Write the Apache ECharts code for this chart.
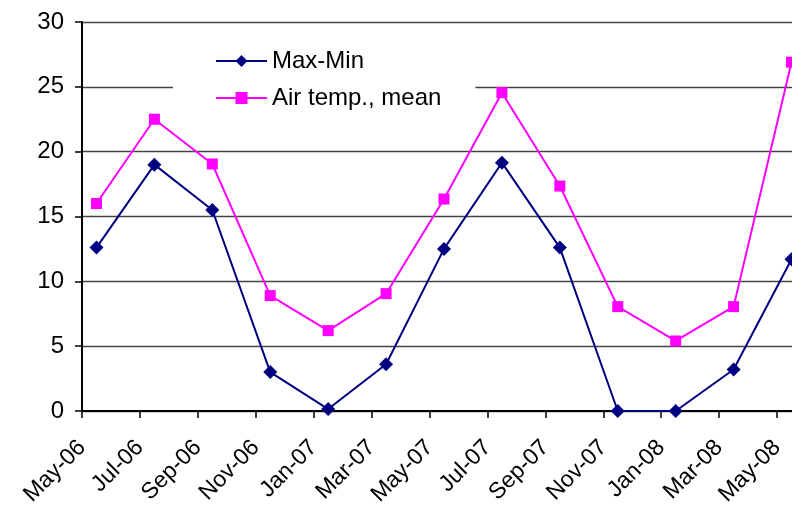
<!DOCTYPE html>
<html>
<head>
<meta charset="utf-8">
<script src="https://cdn.jsdelivr.net/npm/echarts/dist/echarts.min.js"></script>
<style>
  html, body { margin: 0; padding: 0; overflow: hidden; background: #fff; }
  #chart { width: 806px; height: 509px; }
</style>
</head>
<body>
<div id="chart"></div>
<script>
// Calendar months along the horizontal axis, one band per month
const months = [
  'May-06', 'Jun-06', 'Jul-06', 'Aug-06', 'Sep-06', 'Oct-06', 'Nov-06', 'Dec-06',
  'Jan-07', 'Feb-07', 'Mar-07', 'Apr-07', 'May-07', 'Jun-07', 'Jul-07', 'Aug-07',
  'Sep-07', 'Oct-07', 'Nov-07', 'Dec-07', 'Jan-08', 'Feb-08', 'Mar-08', 'Apr-08',
  'May-08'
];
// Month of each bimonthly reading
const sampleMonths = [
  'May-06', 'Jul-06', 'Sep-06', 'Nov-06', 'Jan-07', 'Mar-07', 'May-07',
  'Jul-07', 'Sep-07', 'Nov-07', 'Jan-08', 'Mar-08', 'May-08'
];
const maxMin = [12.6, 19.0, 15.5, 3.0, 0.15, 3.6, 12.5, 19.15, 12.6, 0, 0, 3.2, 11.7];
const airTempMean = [16.0, 22.5, 19.05, 8.9, 6.2, 9.05, 16.35, 24.55, 17.35, 8.05, 5.4, 8.05, 26.9];
// Month boundaries (ticks and labels sit on the start of every second month)
const monthStarts = months.concat(['Jun-08']);
const yTicks = { min: 0, max: 30, step: 5 };

const FONT = 'Liberation Sans, Arial, sans-serif';

const chart = echarts.init(document.getElementById('chart'), null, { renderer: 'canvas' });

chart.setOption({
  animation: false,
  backgroundColor: '#fff',
  grid: {
    left: 82, right: 0, top: 22, bottom: 98,
    outerBoundsMode: 'none',
    containLabel: false
  },
  legend: {
    orient: 'vertical',
    left: 173,
    top: 35,
    padding: [14, 34, 14, 42],
    itemGap: 13,
    itemWidth: 51,
    itemHeight: 15,
    backgroundColor: '#fff',
    textStyle: { fontSize: 24, color: '#000', fontFamily: FONT },
    data: ['Max-Min', 'Air temp., mean']
  },
  xAxis: [
    {
      // data axis: points sit in the middle of their month
      type: 'category',
      data: months,
      boundaryGap: true,
      show: false
    },
    {
      // label axis on month boundaries
      type: 'category',
      data: monthStarts,
      boundaryGap: false,
      position: 'bottom',
      axisLine: { show: true, lineStyle: { color: '#000', width: 2 } },
      axisTick: { show: true, interval: 1, length: 7, lineStyle: { color: '#000', width: 1.5 } },
      axisLabel: {
        interval: 1,
        rotate: 45,
        margin: 33,
        fontSize: 23,
        color: '#000',
        fontFamily: FONT
      },
      splitLine: { show: false }
    }
  ],
  yAxis: {
    type: 'value',
    min: yTicks.min,
    max: yTicks.max,
    interval: yTicks.step,
    axisLine: { show: true, lineStyle: { color: '#000', width: 2 } },
    axisTick: { show: true, length: 7, lineStyle: { color: '#000', width: 1.5 } },
    axisLabel: { margin: 18, fontSize: 24, color: '#000', fontFamily: FONT },
    splitLine: { show: true, lineStyle: { color: '#444', width: 1.3 } }
  },
  series: [
    {
      name: 'Max-Min',
      type: 'line',
      xAxisIndex: 0,
      data: sampleMonths.map((m, i) => [m, maxMin[i]]),
      symbol: 'diamond',
      symbolSize: 14,
      showAllSymbol: true,
      itemStyle: { color: '#000080' },
      lineStyle: { color: '#000080', width: 2 },
      z: 3
    },
    {
      name: 'Air temp., mean',
      type: 'line',
      xAxisIndex: 0,
      data: sampleMonths.map((m, i) => [m, airTempMean[i]]),
      symbol: 'rect',
      symbolSize: 11,
      showAllSymbol: true,
      itemStyle: { color: '#ff00ff' },
      lineStyle: { color: '#ff00ff', width: 2 },
      z: 2
    }
  ]
});
</script>
</body>
</html>
